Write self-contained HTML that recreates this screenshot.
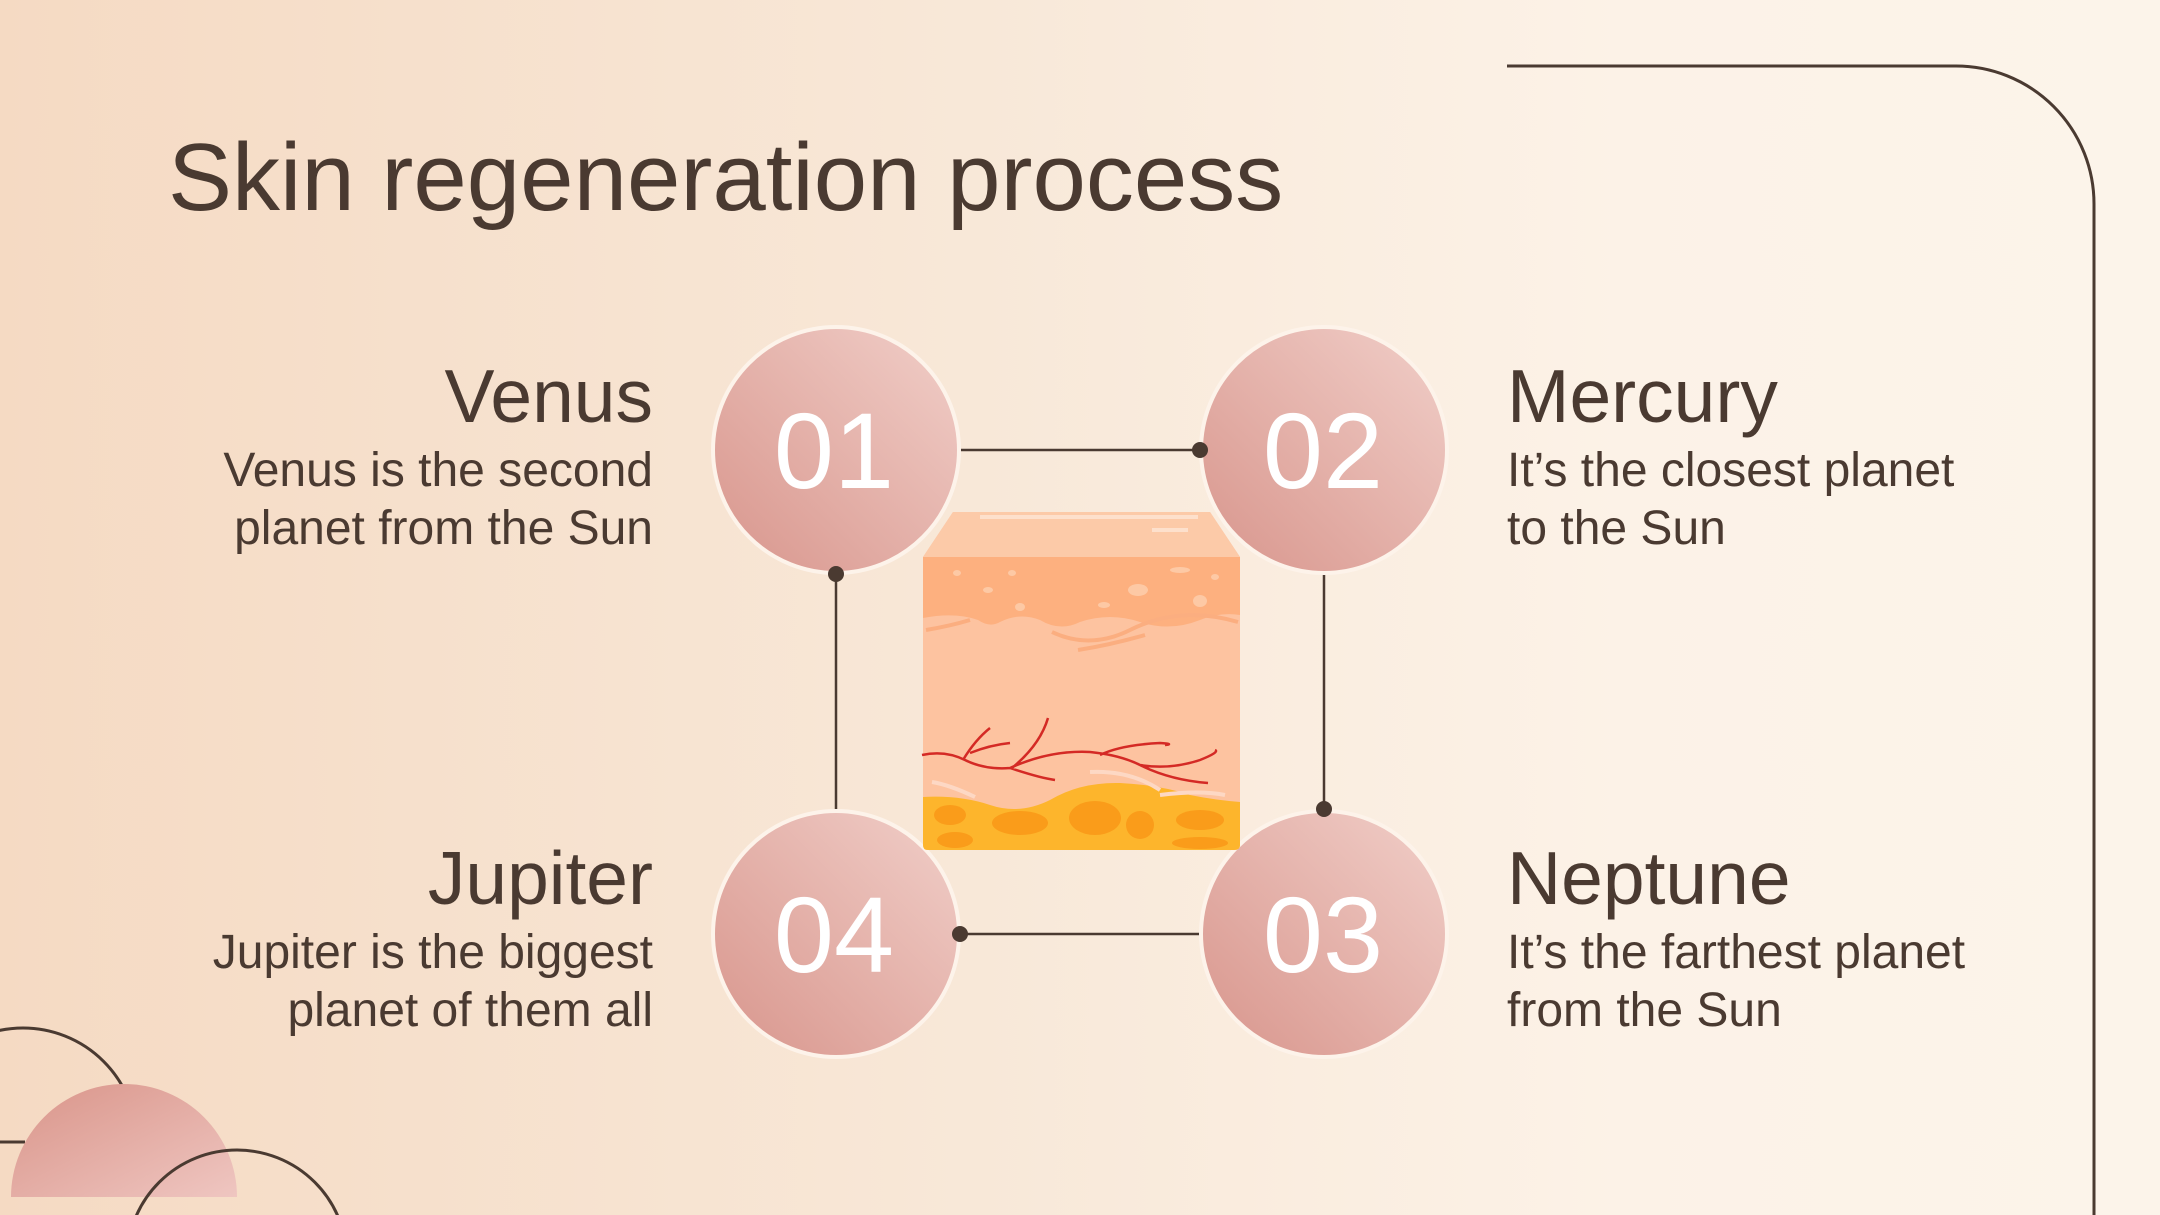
<!DOCTYPE html>
<html><head><meta charset="utf-8"><style>
html,body{margin:0;padding:0}
body{width:2160px;height:1215px;overflow:hidden;position:relative;background:linear-gradient(90deg,#f5dac3 0%,#f8e8d8 45%,#fcf2e7 75%,#fcf4ea 100%);font-family:"Liberation Sans",sans-serif;color:#4a3a31}
.t{position:absolute;white-space:nowrap}
.h{font-size:75px;line-height:80px}
.p{font-size:48px;line-height:58px}
.r{text-align:right}
</style></head><body>
<svg width="2160" height="1215" style="position:absolute;left:0;top:0">
<defs>
<linearGradient id="cg" x1="1" y1="0" x2="0" y2="1"><stop offset="0" stop-color="#f1cfc9"/><stop offset="1" stop-color="#d8958c"/></linearGradient>
<linearGradient id="hg" x1="0" y1="0" x2="1" y2="1"><stop offset="0" stop-color="#d99489"/><stop offset="1" stop-color="#efc6c1"/></linearGradient>
</defs>
<g stroke="#4a3a31" stroke-width="3" fill="none">
<path d="M1507 66 H1956 A138 138 0 0 1 2094 204 V1215"/>
<path d="M0 1142 H25 M-91 1142 A114 114 0 0 1 137 1142"/>
</g>
<path d="M11 1197 A113 113 0 0 1 237 1197 Z" fill="url(#hg)"/>
<path d="M127 1260 A110 110 0 0 1 347 1260" stroke="#4a3a31" stroke-width="3" fill="none"/>
<g stroke="#4a3a31" stroke-width="2.5">
<line x1="960" y1="450" x2="1200" y2="450"/>
<line x1="1324" y1="573" x2="1324" y2="809"/>
<line x1="960" y1="934" x2="1200" y2="934"/>
<line x1="836" y1="574" x2="836" y2="809"/>
</g>
<g stroke="#fdf3ea" stroke-width="4" fill="url(#cg)">
<circle cx="836" cy="450" r="123"/><circle cx="1324" cy="450" r="123"/>
<circle cx="836" cy="934" r="123"/><circle cx="1324" cy="934" r="123"/>
</g>
<g fill="#4a3a31">
<circle cx="1200" cy="450" r="8"/><circle cx="1324" cy="809" r="8"/>
<circle cx="960" cy="934" r="8"/><circle cx="836" cy="574" r="8"/>
</g>
<g fill="#fff" font-family="Liberation Sans,sans-serif" font-size="108" text-anchor="middle">
<text x="834" y="488">01</text><text x="1323" y="488">02</text>
<text x="834" y="972">04</text><text x="1323" y="972">03</text>
</g>
<g>
<path d="M953 512 H1210 L1240 557 V845 Q1240 850 1234 850 H928 Q923 850 923 845 V557 Z" fill="#fdc3a0"/>
<path d="M953 512 H1210 L1240 557 H923 Z" fill="#fccaa8"/>
<path d="M923 557 H1240 V615 Q1220 612 1200 620 Q1170 632 1140 622 Q1110 612 1080 622 Q1060 632 1040 620 Q1020 612 1000 622 Q990 628 978 620 Q955 612 923 618 Z" fill="#fdb07f"/>
<path d="M926 630 Q950 626 970 620 M1052 632 Q1090 650 1130 630 Q1180 605 1238 622 M1078 650 Q1110 645 1145 635" stroke="#fbae80" stroke-width="4" fill="none"/>
<g fill="#fdc9a5"><ellipse cx="957" cy="573" rx="4" ry="3"/><ellipse cx="1012" cy="573" rx="4" ry="3"/><ellipse cx="988" cy="590" rx="5" ry="3"/><ellipse cx="1020" cy="607" rx="5" ry="4"/><ellipse cx="1138" cy="590" rx="10" ry="6"/><ellipse cx="1180" cy="570" rx="10" ry="3"/><ellipse cx="1200" cy="601" rx="7" ry="6"/><ellipse cx="1104" cy="605" rx="6" ry="3"/><ellipse cx="1215" cy="577" rx="4" ry="3"/></g>
<path d="M980 517 H1198 M1152 530 H1188" stroke="#fde0cc" stroke-width="4"/>
<path d="M923 797 Q960 795 990 805 Q1020 815 1050 800 Q1080 782 1120 783 Q1160 785 1190 795 Q1215 800 1240 802 V845 Q1240 850 1234 850 H928 Q923 850 923 845 Z" fill="#fdb52c"/>
<g fill="#fa9c1a"><ellipse cx="950" cy="815" rx="16" ry="10"/><ellipse cx="1020" cy="823" rx="28" ry="12"/><ellipse cx="1095" cy="818" rx="26" ry="17"/><ellipse cx="1140" cy="825" rx="14" ry="14"/><ellipse cx="1200" cy="820" rx="24" ry="10"/><ellipse cx="955" cy="840" rx="18" ry="8"/><ellipse cx="1200" cy="843" rx="28" ry="6"/></g>
<path d="M932 782 Q950 785 975 797 M1090 772 Q1130 770 1160 790 M1160 795 Q1200 790 1225 795" stroke="#fdd8c4" stroke-width="4" fill="none"/>
<path d="M922 755 Q945 750 965 760 Q985 770 1010 768 Q1050 750 1090 752 Q1120 755 1140 765 Q1170 780 1208 783 M963 760 Q975 740 990 728 M970 753 Q990 745 1010 743 M1010 768 Q1040 778 1055 780 M1012 768 Q1040 745 1048 718 M1100 755 Q1120 745 1160 743 Q1175 744 1165 745 M1140 765 Q1170 770 1200 760 Q1220 752 1215 750" stroke="#d42a25" stroke-width="2.5" fill="none"/>
</g>
</svg>
<div class="t h r" style="right:1507px;top:356px">Venus</div>
<div class="t p r" style="right:1507px;top:442px">Venus is the second<br>planet from the Sun</div>
<div class="t h r" style="right:1507px;top:838px">Jupiter</div>
<div class="t p r" style="right:1507px;top:924px">Jupiter is the biggest<br>planet of them all</div>
<div class="t h" style="left:1507px;top:356px">Mercury</div>
<div class="t p" style="left:1507px;top:442px">It’s the closest planet<br>to the Sun</div>
<div class="t h" style="left:1507px;top:838px">Neptune</div>
<div class="t p" style="left:1507px;top:924px">It’s the farthest planet<br>from the Sun</div>
<div class="t" style="left:168px;top:123px;font-size:96px;line-height:110px">Skin regeneration process</div>
</body></html>
